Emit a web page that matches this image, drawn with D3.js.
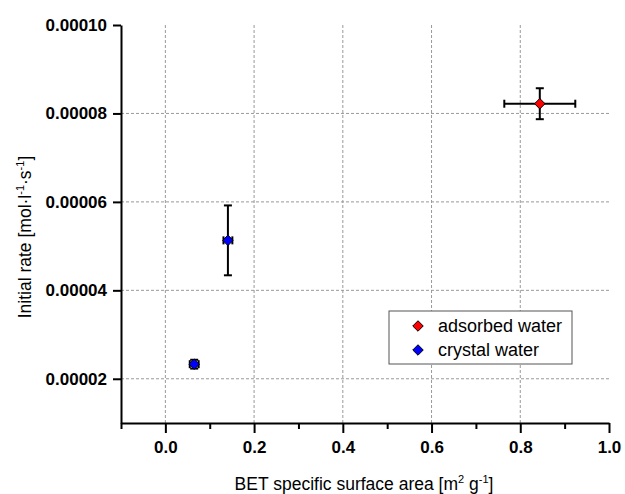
<!DOCTYPE html>
<html>
<head>
<meta charset="utf-8">
<script src="https://cdn.jsdelivr.net/npm/d3@7"></script>
<style>
  body { margin: 0; background: #fff; }
  text { font-family: "Liberation Sans", Arial, sans-serif; }
</style>
</head>
<body>
<script>
// data
var series = ["adsorbed water", "crystal water"];
var colors = ["#ff0000", "#0000ff"];
var surfaceArea = [[0.844], [0.141, 0.065]];
var surfaceErr = [[0.08], [0.01, 0.01]];
var initialRate = [[0.0000822], [0.0000513, 0.0000233]];
var rateErr = [[0.0000035], [0.0000079, 0.000001]];
var xTicks = [0.0, 0.2, 0.4, 0.6, 0.8, 1.0];
var yTicks = [0.00002, 0.00004, 0.00006, 0.00008, 0.00010];

var width = 625, height = 494;
var mLeft = 121, mRight = 609, mTop = 25, mBottom = 423;

var svg = d3.select("body").append("svg")
  .attr("width", width).attr("height", height);

var x = d3.scaleLinear().domain([-0.1, 1.0]).range([mLeft, mRight]);
var y = d3.scaleLinear().domain([0.00001, 0.0001]).range([mBottom, mTop]);

// grid
svg.append("g").selectAll("line")
  .data(xTicks.filter(function(d) { return d < 1.0; }))
  .enter().append("line")
  .attr("x1", function(d) { return x(d); }).attr("x2", function(d) { return x(d); })
  .attr("y1", mTop).attr("y2", mBottom)
  .attr("stroke", "#999").attr("stroke-width", 1).attr("stroke-dasharray", "3,2");

svg.append("g").selectAll("line")
  .data(yTicks.filter(function(d) { return d < 0.0001; }))
  .enter().append("line")
  .attr("x1", mLeft).attr("x2", mRight)
  .attr("y1", function(d) { return y(d); }).attr("y2", function(d) { return y(d); })
  .attr("stroke", "#999").attr("stroke-width", 1).attr("stroke-dasharray", "3,2");

// axes
var xAxis = svg.append("g").attr("transform", "translate(0," + mBottom + ")")
  .call(d3.axisBottom(x).tickValues(xTicks).tickFormat(d3.format(".1f")).tickSize(10).tickSizeOuter(0));
svg.append("g").attr("transform", "translate(0," + mBottom + ")")
  .call(d3.axisBottom(x).tickValues(d3.range(-0.1, 1.0, 0.2)).tickFormat("").tickSize(6).tickSizeOuter(0))
  .select(".domain").remove();

var yAxis = svg.append("g").attr("transform", "translate(" + mLeft + ",0)")
  .call(d3.axisLeft(y).tickValues(yTicks).tickFormat(d3.format(".5f")).tickSize(8).tickSizeOuter(0));

svg.selectAll(".domain").attr("stroke", "#000").attr("stroke-width", 2);
svg.selectAll(".tick line").attr("stroke", "#000").attr("stroke-width", 2);
svg.selectAll(".tick text")
  .style("font-family", "'Liberation Sans', Arial, sans-serif")
  .style("font-size", "17px").style("font-weight", "bold").attr("fill", "#000");
xAxis.selectAll("text").attr("y", 18);
yAxis.selectAll("text").attr("x", -14);

// axis titles
var xt = svg.append("text").attr("x", 364).attr("y", 490).attr("text-anchor", "middle")
  .style("font-size", "17.5px");
xt.append("tspan").text("BET specific surface area [m");
xt.append("tspan").attr("dy", -7).style("font-size", "11px").text("2");
xt.append("tspan").attr("dy", 7).text(" g");
xt.append("tspan").attr("dy", -7).style("font-size", "11px").text("-1");
xt.append("tspan").attr("dy", 7).text("]");

var yt = svg.append("text").attr("transform", "translate(31,237) rotate(-90)")
  .attr("text-anchor", "middle").style("font-size", "17.5px");
yt.append("tspan").text("Initial rate [mol·l");
yt.append("tspan").attr("dy", -7).style("font-size", "11px").text("-1");
yt.append("tspan").attr("dy", 7).text("·s");
yt.append("tspan").attr("dy", -7).style("font-size", "11px").text("-1");
yt.append("tspan").attr("dy", 7).text("]");

// points with error bars
var diamond = d3.symbol().type(d3.symbolDiamond2).size(70);
series.forEach(function(s, i) {
  var pts = surfaceArea[i].map(function(v, j) {
    return { x: v, y: initialRate[i][j], ex: surfaceErr[i][j], ey: rateErr[i][j] };
  });
  var g = svg.append("g");
  var eb = g.selectAll("g.eb").data(pts).enter().append("g").attr("class", "eb")
    .attr("stroke", "#000").attr("stroke-width", 2);
  eb.append("line")
    .attr("x1", function(d) { return x(d.x - d.ex); }).attr("x2", function(d) { return x(d.x + d.ex); })
    .attr("y1", function(d) { return y(d.y); }).attr("y2", function(d) { return y(d.y); });
  eb.append("line")
    .attr("x1", function(d) { return x(d.x); }).attr("x2", function(d) { return x(d.x); })
    .attr("y1", function(d) { return y(d.y - d.ey); }).attr("y2", function(d) { return y(d.y + d.ey); });
  [-1, 1].forEach(function(k) {
    eb.append("line")
      .attr("x1", function(d) { return x(d.x + k * d.ex); }).attr("x2", function(d) { return x(d.x + k * d.ex); })
      .attr("y1", function(d) { return y(d.y) - 4; }).attr("y2", function(d) { return y(d.y) + 4; });
    eb.append("line")
      .attr("x1", function(d) { return x(d.x) - 4; }).attr("x2", function(d) { return x(d.x) + 4; })
      .attr("y1", function(d) { return y(d.y + k * d.ey); }).attr("y2", function(d) { return y(d.y + k * d.ey); });
  });
  g.selectAll("path").data(pts).enter().append("path")
    .attr("d", diamond)
    .attr("transform", function(d) { return "translate(" + x(d.x) + "," + y(d.y) + ")"; })
    .attr("fill", colors[i]).attr("stroke", "#000").attr("stroke-width", 1);
});

// legend
var lg = svg.append("g").attr("transform", "translate(389,311)");
lg.append("rect").attr("width", 183).attr("height", 53)
  .attr("fill", "#fff").attr("stroke", "#555").attr("stroke-width", 1);
var li = lg.selectAll("g.item").data(series).enter().append("g").attr("class", "item")
  .attr("transform", function(d, i) { return "translate(29," + (15 + i * 24) + ")"; });
li.append("path").attr("d", diamond)
  .attr("fill", function(d, i) { return colors[i]; }).attr("stroke", "#000").attr("stroke-width", 1);
li.append("text").attr("x", 20).attr("y", 6).style("font-size", "18px").text(function(d) { return d; });
</script>
</body>
</html>
